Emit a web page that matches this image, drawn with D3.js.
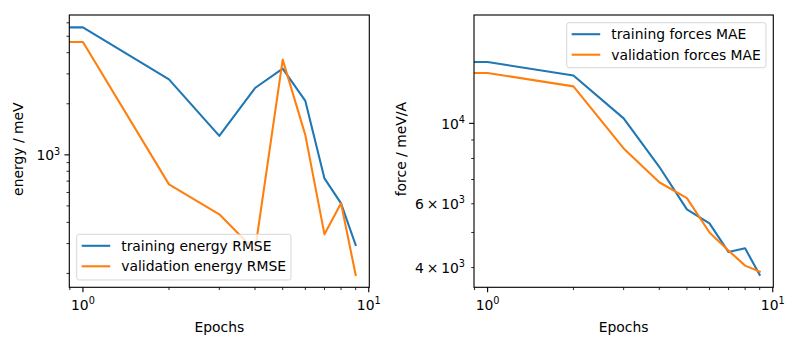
<!DOCTYPE html>
<html>
<head>
<meta charset="utf-8">
<script src="https://cdn.jsdelivr.net/npm/d3@7"></script>
<style>
  html, body { margin: 0; padding: 0; background: #fff; }
  svg text { font-family: "DejaVu Sans", sans-serif; fill: #000; }
</style>
</head>
<body>
<div id="chart"></div>
<script>
// epoch 0 sits at x = 0, which a log axis cannot show: like matplotlib's
// 'clip' it is pushed to a tiny positive value and runs off the left edge
const epochs = [0, 1, 2, 3, 4, 5, 6, 7, 8, 9];

const trainEnergy = [5400, 5640, 2786, 1293, 2477, 3220, 2079, 726, 518, 294];
const validEnergy = [4700, 4624, 670, 446, 273, 3640, 1306, 340, 518, 196];

const trainForces = [18400, 14760, 13560, 10320, 7590, 5790, 5295, 4415, 4520, 3818];
const validForces = [16000, 13770, 12650, 8530, 6880, 6220, 5000, 4455, 4050, 3900];

const energyNames = ['training energy RMSE', 'validation energy RMSE'];
const forceNames = ['training forces MAE', 'validation forces MAE'];

// minor y ticks that get a label (mantissa x 10^n)
const energyMinorLabels = [];
const forceMinorLabels = [4000, 6000];

const colors = ['#1f77b4', '#ff7f0e'];

const width = 800;
const height = 350;
const fontSize = 13.9;
const pt = 100 / 72; // matplotlib points -> px at dpi 100

const svg = d3.select('#chart').append('svg')
  .attr('width', width)
  .attr('height', height);

// pad a log extent by 5% on each side, as matplotlib does
function padLog(ext) {
  const a = Math.log10(ext[0]);
  const b = Math.log10(ext[1]);
  const m = (b - a) * 0.05;
  return [Math.pow(10, a - m), Math.pow(10, b + m)];
}

function logTicks(domain) {
  const major = [];
  const minor = [];
  const lo = Math.floor(Math.log10(domain[0])) - 1;
  const hi = Math.ceil(Math.log10(domain[1])) + 1;
  for (let n = lo; n <= hi; n += 1) {
    for (let k = 1; k < 10; k += 1) {
      const v = k * Math.pow(10, n);
      if (v < domain[0] || v > domain[1]) continue;
      if (k === 1) major.push(v); else minor.push(v);
    }
  }
  return { major, minor };
}

// writes "m × 10^n" with a real superscript
function mathLabel(sel, v, showMantissa) {
  const n = Math.floor(Math.log10(v) + 1e-9);
  const m = Math.round(v / Math.pow(10, n));
  if (showMantissa && m !== 1) {
    sel.append('tspan').text(`${m}\u2009×\u200910`);
  } else {
    sel.append('tspan').text('10');
  }
  sel.append('tspan')
    .attr('dy', -fontSize * 0.42)
    .attr('font-size', fontSize * 0.7)
    .text(n);
}

let clipId = 0;

function drawPanel(opts) {
  const x0 = opts.left;
  const x1 = opts.right;
  const y0 = opts.top;
  const y1 = opts.bottom;

  const xDomain = padLog(d3.extent(epochs.filter(e => e > 0)));
  const yDomain = padLog(d3.extent(opts.series.flat()));

  const xScale = d3.scaleLog().domain(xDomain).range([x0, x1]);
  const yScale = d3.scaleLog().domain(yDomain).range([y1, y0]);

  const g = svg.append('g');

  clipId += 1;
  g.append('clipPath')
    .attr('id', `clip${clipId}`)
    .append('rect')
      .attr('x', x0)
      .attr('y', y0)
      .attr('width', x1 - x0)
      .attr('height', y1 - y0);

  const line = d3.line()
    .x(d => xScale(Math.max(d[0], 1e-300)))
    .y(d => yScale(d[1]));

  const lines = g.append('g').attr('clip-path', `url(#clip${clipId})`);
  opts.series.forEach(function (vals, i) {
    lines.append('path')
      .datum(epochs.map((e, j) => [e, vals[j]]))
      .attr('d', line)
      .attr('fill', 'none')
      .attr('stroke', colors[i])
      .attr('stroke-width', 1.5 * pt)
      .attr('stroke-linejoin', 'round')
      .attr('stroke-linecap', 'square');
  });

  // frame
  g.append('rect')
    .attr('x', x0)
    .attr('y', y0)
    .attr('width', x1 - x0)
    .attr('height', y1 - y0)
    .attr('fill', 'none')
    .attr('stroke', '#000')
    .attr('stroke-width', 0.8 * pt);

  // x ticks
  const xt = logTicks(xDomain);
  xt.minor.forEach(function (v) {
    g.append('line')
      .attr('x1', xScale(v)).attr('x2', xScale(v))
      .attr('y1', y1).attr('y2', y1 + 2 * pt)
      .attr('stroke', '#000').attr('stroke-width', 0.6 * pt);
  });
  xt.major.forEach(function (v) {
    g.append('line')
      .attr('x1', xScale(v)).attr('x2', xScale(v))
      .attr('y1', y1).attr('y2', y1 + 3.5 * pt)
      .attr('stroke', '#000').attr('stroke-width', 0.8 * pt);
  });
  // the 10^1 label sits just past the right edge and is still drawn
  [1, 10].forEach(function (v) {
    const t = g.append('text')
      .attr('x', xScale(v))
      .attr('y', y1 + 23)
      .attr('text-anchor', 'middle')
      .attr('font-size', fontSize);
    mathLabel(t, v, false);
  });

  // y ticks
  const yt = logTicks(yDomain);
  yt.minor.forEach(function (v) {
    g.append('line')
      .attr('x1', x0 - 2 * pt).attr('x2', x0)
      .attr('y1', yScale(v)).attr('y2', yScale(v))
      .attr('stroke', '#000').attr('stroke-width', 0.6 * pt);
  });
  yt.major.forEach(function (v) {
    g.append('line')
      .attr('x1', x0 - 3.5 * pt).attr('x2', x0)
      .attr('y1', yScale(v)).attr('y2', yScale(v))
      .attr('stroke', '#000').attr('stroke-width', 0.8 * pt);
  });
  yt.major.concat(opts.minorLabels).forEach(function (v) {
    const t = g.append('text')
      .attr('x', x0 - 9)
      .attr('y', yScale(v) + 5.5)
      .attr('text-anchor', 'end')
      .attr('font-size', fontSize);
    mathLabel(t, v, true);
  });

  // axis titles
  g.append('text')
    .attr('x', (x0 + x1) / 2)
    .attr('y', 332)
    .attr('text-anchor', 'middle')
    .attr('font-size', fontSize)
    .text('Epochs');

  g.append('text')
    .attr('transform', `translate(${opts.yLabelX}, ${(y0 + y1) / 2 - 2}) rotate(-90)`)
    .attr('text-anchor', 'middle')
    .attr('font-size', fontSize)
    .text(opts.yLabel);

  // legend
  const lg = opts.legend;
  g.append('rect')
    .attr('x', lg.x)
    .attr('y', lg.y)
    .attr('width', lg.w)
    .attr('height', lg.h)
    .attr('rx', 2.5)
    .attr('fill', '#fff')
    .attr('fill-opacity', 0.8)
    .attr('stroke', '#ccc')
    .attr('stroke-opacity', 0.8)
    .attr('stroke-width', 1);

  opts.names.forEach(function (name, i) {
    const cy = lg.y + 11.5 + i * 20.5;
    g.append('line')
      .attr('x1', lg.x + 5).attr('x2', lg.x + 33.5)
      .attr('y1', cy).attr('y2', cy)
      .attr('stroke', colors[i])
      .attr('stroke-width', 1.5 * pt);
    g.append('text')
      .attr('x', lg.x + 44.5)
      .attr('y', cy + 5)
      .attr('font-size', fontSize)
      .text(name);
  });
}

drawPanel({
  left: 69.3,
  right: 369.3,
  top: 15,
  bottom: 287.3,
  series: [trainEnergy, validEnergy],
  names: energyNames,
  minorLabels: energyMinorLabels,
  yLabel: 'energy / meV',
  yLabelX: 23.3,
  legend: { x: 76.7, y: 234.3, w: 214.3, h: 45.7 },
});

drawPanel({
  left: 474,
  right: 773.3,
  top: 15,
  bottom: 287.3,
  series: [trainForces, validForces],
  names: forceNames,
  minorLabels: forceMinorLabels,
  yLabel: 'force / meV/A',
  yLabelX: 405.7,
  legend: { x: 566.7, y: 22.7, w: 199.3, h: 45 },
});
</script>
</body>
</html>
